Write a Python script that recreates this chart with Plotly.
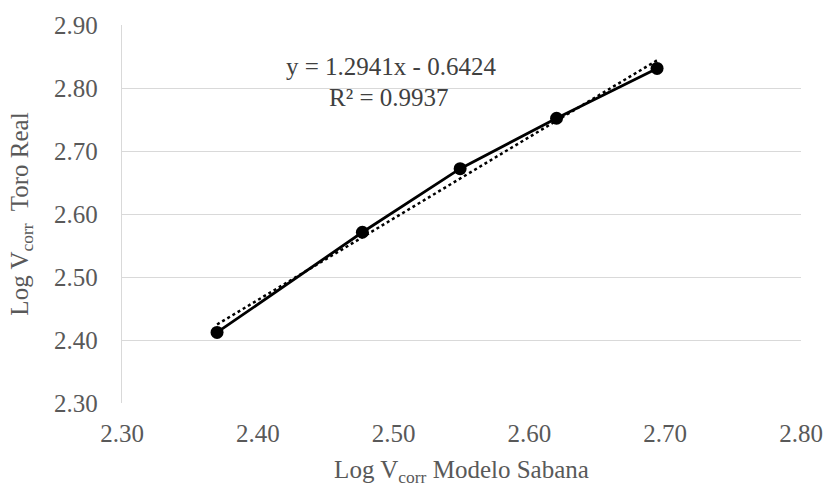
import plotly.graph_objects as go

x_vals = [2.370, 2.477, 2.549, 2.620, 2.694]
y_vals = [2.412, 2.571, 2.672, 2.752, 2.831]
slope = 1.2941
intercept = -0.6424
r2 = 0.9937
x_ticks = [2.30, 2.40, 2.50, 2.60, 2.70, 2.80]
y_ticks = [2.30, 2.40, 2.50, 2.60, 2.70, 2.80, 2.90]

trend_x = [min(x_vals), max(x_vals)]
trend_y = [slope * v + intercept for v in trend_x]

font = "Liberation Serif, Times New Roman, serif"
FS = 25

W, H = 825, 487
L, T = 122, 25
R = W - 801
B = H - 403.5
pw, ph = W - L - R, H - T - B


def px(xp, yp):
    return (xp - L) / pw, 1 - (yp - T) / ph


fig = go.Figure()
fig.add_trace(go.Scatter(x=trend_x, y=trend_y, mode="lines",
                         line=dict(color="black", width=2.5, dash="dot"),
                         showlegend=False, hoverinfo="skip"))
fig.add_trace(go.Scatter(x=x_vals, y=y_vals, mode="lines+markers",
                         line=dict(color="black", width=2.8),
                         marker=dict(color="black", size=13),
                         showlegend=False))

ax, ay = px(391, 67)
fig.add_annotation(x=ax, y=ay, xref="paper", yref="paper", xanchor="center", yanchor="middle",
                   text=f"y = {slope}x - {abs(intercept)}",
                   showarrow=False, font=dict(family=font, size=FS, color="#404040"))
ax, ay = px(389, 98)
fig.add_annotation(x=ax, y=ay, xref="paper", yref="paper", xanchor="center", yanchor="middle",
                   text=f"R² = {r2}",
                   showarrow=False, font=dict(family=font, size=FS, color="#404040"))

fig.update_layout(
    width=W, height=H,
    margin=dict(l=L, r=R, t=T, b=B, autoexpand=False),
    plot_bgcolor="white", paper_bgcolor="white",
    font=dict(family=font, color="#595959", size=FS),
    xaxis=dict(range=[2.30, 2.80], tickvals=x_ticks,
               ticktext=[f"{v:.2f}" for v in x_ticks],
               showgrid=False, zeroline=False,
               showline=False, ticks="", ticklabelstandoff=13,
               title=dict(text="Log V<sub>corr</sub> Modelo Sabana", font=dict(size=FS), standoff=16)),
    yaxis=dict(range=[2.30, 2.90], tickvals=y_ticks,
               ticktext=[f"{v:.2f}" for v in y_ticks],
               showgrid=True, gridcolor="#d9d9d9", gridwidth=1.3,
               zeroline=False, showline=True, linecolor="#d9d9d9", linewidth=1.3,
               ticks="", ticklabelstandoff=18,
               title=dict(text="Log V<sub>corr</sub>  Toro Real", font=dict(size=FS), standoff=18)),
)

fig.write_html(
    "out.html",
    config={"displayModeBar": False},
    post_script="document.body.style.margin='0';document.body.style.overflow='hidden';"
                "document.documentElement.style.overflow='hidden';",
)
